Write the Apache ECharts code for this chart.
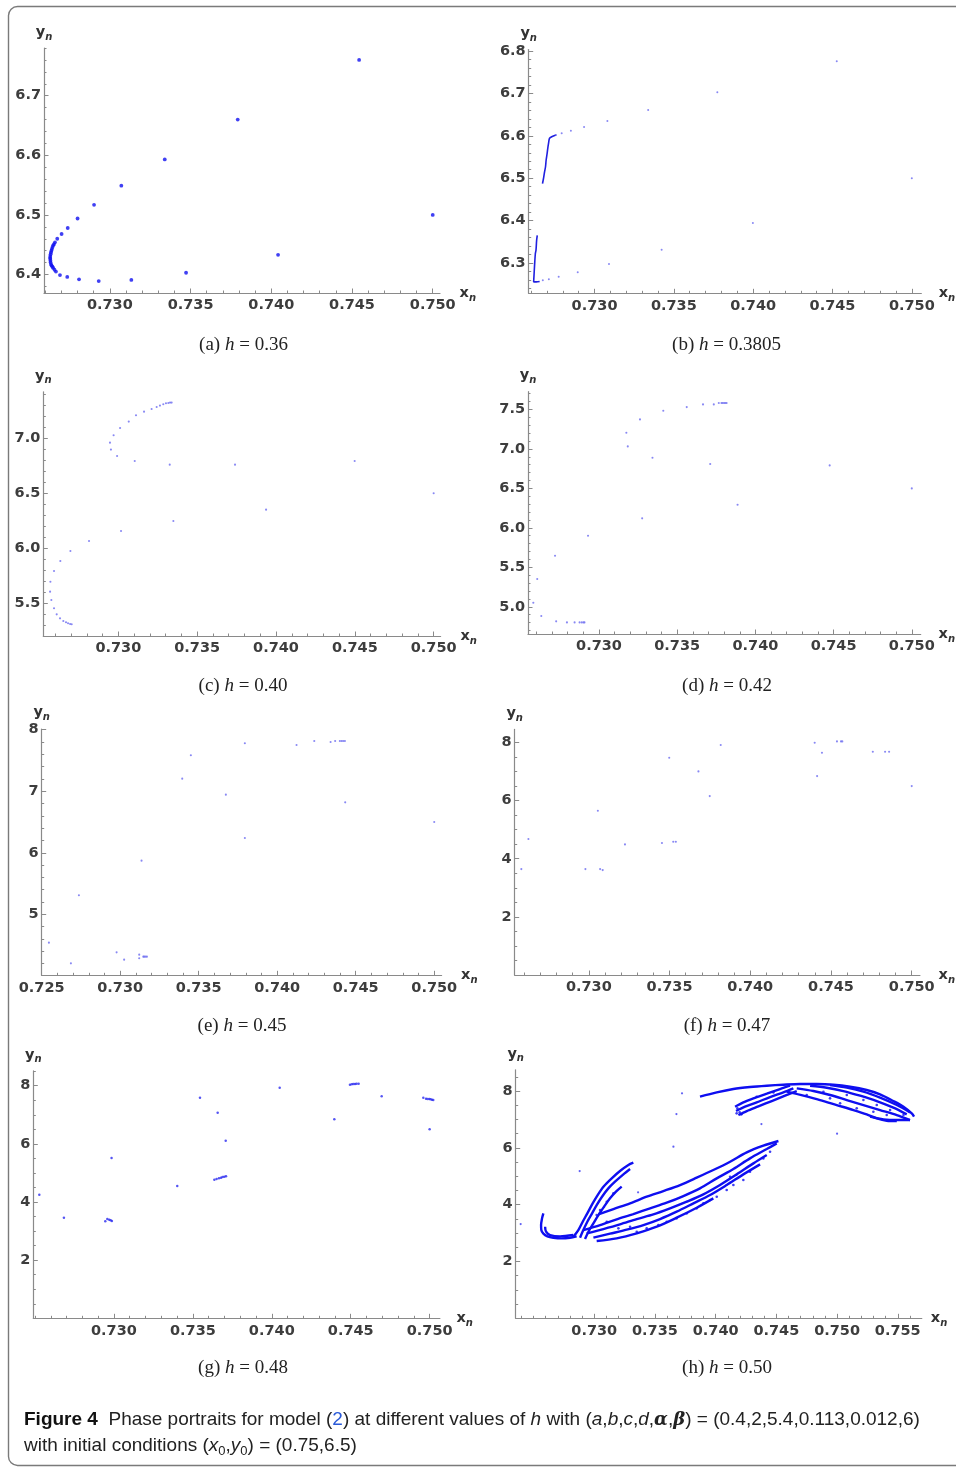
<!DOCTYPE html>
<html><head><meta charset="utf-8">
<script src="https://cdn.jsdelivr.net/npm/echarts@6/dist/echarts.min.js"></script>
<style>html,body{margin:0;padding:0;background:#fff}#c{width:956px;height:1468px}</style>
</head><body><div id="c"></div>
<script>
// ---------- DATA (x_n, y_n) ----------
const ptsA = [[0.75000,6.500],[0.74042,6.433],[0.73472,6.403],[0.73133,6.391],[0.72931,6.389],[0.72809,6.392],[0.72736,6.396],[0.72691,6.399],[0.72666,6.405],[0.72657,6.408],[0.72649,6.411],[0.72644,6.413],[0.72639,6.415],[0.72636,6.417],[0.72633,6.420],[0.72632,6.423],[0.72631,6.426],[0.72630,6.428],[0.72631,6.431],[0.72633,6.434],[0.72635,6.437],[0.72638,6.440],[0.72641,6.443],[0.72645,6.446],[0.72649,6.449],[0.72654,6.451],[0.72660,6.454],[0.72674,6.460],[0.72701,6.468],[0.72739,6.478],[0.72800,6.494],[0.72902,6.517],[0.73071,6.549],[0.73340,6.593],[0.73792,6.660],[0.74544,6.760]];
const ptsB = [[0.75000,6.500],[0.73998,6.394],[0.73423,6.331],[0.73091,6.297],[0.72894,6.278],[0.72774,6.267],[0.72712,6.261],[0.72674,6.259],[0.72757,6.602],[0.72793,6.606],[0.72851,6.612],[0.72934,6.621],[0.73081,6.635],[0.73338,6.661],[0.73774,6.703],[0.74527,6.776]];
const segB1 = [[0.72757,6.602],[0.72730,6.598],[0.72716,6.594],[0.72710,6.582],[0.72705,6.570],[0.72701,6.558],[0.72695,6.543],[0.72691,6.527],[0.72685,6.515],[0.72680,6.503],[0.72676,6.495],[0.72672,6.487]];
const segB2 = [[0.72639,6.365],[0.72635,6.353],[0.72631,6.330],[0.72627,6.322],[0.72622,6.294],[0.72618,6.267],[0.72616,6.255],[0.72633,6.255],[0.72654,6.256]];
const ptsC = [[0.75000,6.500],[0.73937,6.352],[0.73349,6.249],[0.73017,6.159],[0.72814,6.068],[0.72696,5.977],[0.72632,5.887],[0.72592,5.796],[0.72569,5.699],[0.72567,5.609],[0.72575,5.533],[0.72592,5.458],[0.72609,5.403],[0.72630,5.367],[0.72651,5.343],[0.72668,5.331],[0.72681,5.322],[0.72694,5.316],[0.72704,5.313],[0.74499,6.793],[0.73740,6.760],[0.73326,6.760],[0.73104,6.793],[0.72992,6.838],[0.72953,6.896],[0.72947,6.959],[0.72970,7.026],[0.73011,7.092],[0.73066,7.150],[0.73112,7.207],[0.73163,7.240],[0.73211,7.264],[0.73243,7.282],[0.73264,7.295],[0.73285,7.307],[0.73302,7.316],[0.73317,7.319],[0.73328,7.322],[0.73338,7.322]];
const ptsD = [[0.75000,6.500],[0.73886,6.293],[0.73276,6.120],[0.72930,5.900],[0.72719,5.647],[0.72605,5.351],[0.72580,5.051],[0.72631,4.883],[0.72726,4.815],[0.72795,4.802],[0.72844,4.802],[0.72876,4.802],[0.72890,4.802],[0.72901,4.802],[0.72907,4.802],[0.74475,6.791],[0.73711,6.808],[0.73342,6.889],[0.73184,7.032],[0.73175,7.205],[0.73262,7.374],[0.73411,7.484],[0.73561,7.530],[0.73665,7.564],[0.73734,7.564],[0.73766,7.581],[0.73783,7.581],[0.73791,7.581],[0.73800,7.581],[0.73808,7.581],[0.73816,7.581]];
const ptsE = [[0.75000,6.500],[0.74433,6.819],[0.73794,6.240],[0.73136,5.872],[0.72737,5.309],[0.72546,4.540],[0.72686,4.204],[0.72977,4.383],[0.73025,4.264],[0.73121,4.345],[0.73121,4.286],[0.73147,4.313],[0.73153,4.313],[0.73161,4.313],[0.73170,4.313],[0.73395,7.204],[0.73450,7.583],[0.73673,6.944],[0.73794,7.778],[0.74123,7.751],[0.74236,7.816],[0.74340,7.799],[0.74369,7.816],[0.74399,7.816],[0.74410,7.816],[0.74420,7.816],[0.74431,7.816]];
const ptsF = [[0.75000,6.500],[0.74414,6.844],[0.74399,7.991],[0.74444,7.647],[0.74537,8.037],[0.74562,8.037],[0.74570,8.037],[0.74759,7.681],[0.74835,7.681],[0.74860,7.681],[0.73817,7.911],[0.73498,7.475],[0.73679,7.005],[0.73749,6.156],[0.73453,4.539],[0.73523,4.585],[0.73539,4.585],[0.73224,4.493],[0.73056,5.651],[0.72979,3.644],[0.73070,3.644],[0.73086,3.610],[0.72626,4.677],[0.72582,3.644]];
const ptsG = [[0.75000,6.500],[0.74396,6.844],[0.74696,7.635],[0.74960,7.589],[0.74977,7.555],[0.74987,7.544],[0.74998,7.544],[0.75006,7.532],[0.75015,7.521],[0.75023,7.509],[0.74050,7.933],[0.74495,8.037],[0.74506,8.048],[0.74516,8.060],[0.74527,8.060],[0.74537,8.071],[0.74550,8.071],[0.73545,7.589],[0.73657,7.073],[0.73708,6.110],[0.72985,5.514],[0.73401,4.550],[0.73636,4.768],[0.73650,4.791],[0.73665,4.814],[0.73678,4.837],[0.73688,4.860],[0.73699,4.872],[0.73710,4.883],[0.72527,4.252],[0.72683,3.461],[0.72945,3.335],[0.72958,3.415],[0.72970,3.392],[0.72979,3.369],[0.72987,3.346]];
// (h) h = 0.50 : strands of the attractor + isolated points
const ptsH = [[0.75000,6.500],[0.73723,7.920],[0.73677,7.192],[0.74377,6.840],[0.73652,6.042],[0.72880,5.185],[0.72394,3.319],[0.73361,4.434]];
const hSpeckle = [[0.73103,3.401],[0.73199,3.167],[0.73295,3.225],[0.73350,3.049],[0.73432,3.167],[0.73528,3.284],[0.73597,3.401],[0.73679,3.519],[0.73762,3.695],[0.73844,3.871],[0.73899,4.047],[0.73954,4.164],[0.74009,4.282],[0.74091,4.516],[0.74146,4.693],[0.74228,4.869],[0.74283,5.162],[0.74119,4.986],[0.74393,5.631],[0.74448,5.866],[0.73020,3.636],[0.73048,3.812],[0.73103,4.106],[0.73158,4.399],[0.74338,7.803],[0.74476,7.955],[0.74750,7.862],[0.74942,7.744],[0.75080,7.862],[0.75217,7.685],[0.75327,7.509],[0.75437,7.333],[0.75547,7.157],[0.74888,7.979],[0.75025,7.568],[0.75162,7.392],[0.75299,7.275],[0.75409,7.157],[0.74179,7.392],[0.74198,7.251],[0.74212,7.181],[0.74173,7.216]];
const hHook1 = [[0.72581,3.695],[0.72570,3.519],[0.72562,3.284],[0.72564,3.108],[0.72581,2.979],[0.72614,2.885],[0.72663,2.838],[0.72732,2.815],[0.72800,2.838],[0.72855,2.885]];
const hHook2 = [[0.72595,3.225],[0.72603,3.049],[0.72636,2.932],[0.72718,2.885],[0.72828,2.932]];
const hWing1 = [[0.72828,2.873],[0.72869,3.108],[0.72905,3.401],[0.72943,3.695],[0.72987,4.047],[0.73028,4.340],[0.73081,4.657],[0.73144,4.927],[0.73212,5.185],[0.73281,5.397],[0.73322,5.479]];
const hWing2 = [[0.72883,2.838],[0.72910,3.108],[0.72943,3.401],[0.72982,3.695],[0.73020,3.988],[0.73064,4.282],[0.73116,4.575],[0.73171,4.810],[0.73240,5.068],[0.73295,5.256]];
const hWing3 = [[0.72924,2.791],[0.72952,3.049],[0.72993,3.343],[0.73034,3.636],[0.73081,3.930],[0.73130,4.223],[0.73179,4.458],[0.73226,4.634]];
const hBandA = [[0.73034,3.660],[0.73158,3.847],[0.73295,4.047],[0.73432,4.282],[0.73569,4.481],[0.73707,4.693],[0.73844,4.951],[0.73981,5.221],[0.74119,5.514],[0.74256,5.843],[0.74393,6.078],[0.74517,6.242]];
const hBandB = [[0.72910,3.108],[0.73048,3.284],[0.73185,3.484],[0.73322,3.671],[0.73460,3.871],[0.73597,4.070],[0.73734,4.305],[0.73871,4.575],[0.74009,4.927],[0.74146,5.256],[0.74283,5.631],[0.74421,5.960],[0.74503,6.160]];
const hBandC = [[0.72938,2.991],[0.73075,3.143],[0.73212,3.308],[0.73350,3.495],[0.73487,3.660],[0.73624,3.871],[0.73762,4.106],[0.73899,4.364],[0.74036,4.693],[0.74174,5.068],[0.74311,5.455],[0.74421,5.749]];
const hBandD = [[0.72993,2.838],[0.73130,2.979],[0.73267,3.120],[0.73405,3.284],[0.73542,3.495],[0.73679,3.754],[0.73817,4.047],[0.73954,4.340],[0.74091,4.693],[0.74228,5.068],[0.74366,5.420]];
const hBandE = [[0.73020,2.721],[0.73185,2.815],[0.73350,2.991],[0.73515,3.225],[0.73679,3.542],[0.73844,3.894],[0.73981,4.223]];
const hTop = [[0.73871,7.803],[0.74009,7.955],[0.74146,8.073],[0.74283,8.143],[0.74421,8.190],[0.74558,8.225],[0.74695,8.249],[0.74833,8.249],[0.74970,8.225],[0.75107,8.155],[0.75244,8.038],[0.75354,7.885],[0.75464,7.650],[0.75547,7.451],[0.75615,7.216],[0.75634,7.099]];
const hLobe1 = [[0.74160,7.451],[0.74228,7.603],[0.74311,7.744],[0.74421,7.908],[0.74530,8.073],[0.74613,8.190]];
const hLobe2 = [[0.74168,7.298],[0.74242,7.451],[0.74338,7.603],[0.74448,7.791],[0.74558,7.955],[0.74640,8.096]];
const hLobe3 = [[0.74187,7.157],[0.74256,7.298],[0.74352,7.462],[0.74462,7.650],[0.74572,7.838],[0.74668,8.002]];
const hRight1 = [[0.74585,7.979],[0.74723,7.838],[0.74860,7.685],[0.74997,7.509],[0.75135,7.333],[0.75244,7.181],[0.75327,7.040],[0.75409,6.958],[0.75492,6.946]];
const hRight2 = [[0.74668,8.096],[0.74805,8.002],[0.74942,7.862],[0.75080,7.685],[0.75217,7.509],[0.75354,7.333],[0.75492,7.157],[0.75601,6.981]];
const hRight3 = [[0.74778,8.190],[0.74915,8.120],[0.75052,8.002],[0.75190,7.838],[0.75327,7.650],[0.75464,7.416],[0.75574,7.181]];
const hRight4 = [[0.74942,8.214],[0.75080,8.120],[0.75217,7.979],[0.75354,7.768],[0.75492,7.509],[0.75601,7.251]];
const hBottom = [[0.75272,7.099],[0.75382,7.005],[0.75492,6.981],[0.75601,6.981]];

// ---------- TICK LABELS ----------
const xTicks = [0.730,0.735,0.740,0.745,0.750];
const xTicksE = [0.725,0.730,0.735,0.740,0.745,0.750];
const xTicksH = [0.730,0.735,0.740,0.745,0.750,0.755];
const yTicksA = [6.4,6.5,6.6,6.7];
const yTicksB = [6.3,6.4,6.5,6.6,6.7,6.8];
const yTicksC = [5.5,6.0,6.5,7.0];
const yTicksD = [5.0,5.5,6.0,6.5,7.0,7.5];
const yTicksE = [5,6,7,8];
const yTicksFGH = [2,4,6,8];
const captions = ['(a) {i|h} = 0.36','(b) {i|h} = 0.3805','(c) {i|h} = 0.40','(d) {i|h} = 0.42','(e) {i|h} = 0.45','(f) {i|h} = 0.47','(g) {i|h} = 0.48','(h) {i|h} = 0.50'];

// ---------- LAYOUT ----------
const panels = [
 {g:{left:44,top:48,width:396,height:245}, x:[0.72592,0.75045], y:[6.369,6.78], xMaj:xTicks, yMaj:yTicksA, yStep:0.02, yDec:1, cap:[243.5,345]},
 {g:{left:528.7,top:49.5,width:397.7,height:243.8}, x:[0.72585,0.75060], y:[6.228,6.804], xMaj:xTicks, yMaj:yTicksB, yStep:0.02, yDec:1, cap:[726.5,345]},
 {g:{left:43.3,top:391.8,width:397.3,height:244.2}, x:[0.72524,0.75044], y:[5.207,7.42], xMaj:xTicks, yMaj:yTicksC, yStep:0.1, yDec:1, cap:[243,686]},
 {g:{left:528,top:391.7,width:396.7,height:242.3}, x:[0.72546,0.75057], y:[4.655,7.725], xMaj:xTicks, yMaj:yTicksD, yStep:0.1, yDec:1, cap:[727,686]},
 {g:{left:41.7,top:729,width:399.9,height:246.3}, x:[0.725,0.75047], y:[4.01,8.01], xMaj:xTicksE, yMaj:yTicksE, yStep:0.2, yDec:0, cap:[242,1026]},
 {g:{left:514.7,top:729.4,width:406.6,height:245.6}, x:[0.72541,0.75051], y:[0,8.45], xMaj:xTicks, yMaj:yTicksFGH, yStep:0.5, yDec:0, cap:[727,1026]},
 {g:{left:33.3,top:1070.9,width:406.6,height:247.4}, x:[0.72489,0.75065], y:[0,8.51], xMaj:xTicks, yMaj:yTicksFGH, yStep:0.5, yDec:0, cap:[243,1368]},
 {g:{left:515.7,top:1069.8,width:406.1,height:248.5}, x:[0.72353,0.75698], y:[0,8.75], xMaj:xTicksH, yMaj:yTicksFGH, yStep:0.5, yDec:0, cap:[727,1368]}
];

function minorTicks(min, max, step, majors){
  const out=[]; let k=Math.ceil(min/step-1e-9);
  for(; k*step<=max+1e-12; k++){
    const v=+(k*step).toFixed(6);
    if(v<min-1e-12) continue;
    if(!majors.some(m=>Math.abs(m-v)<step*0.01)) out.push(v);
  }
  return out;
}

const AX = '#8a8a8a';
const LBL = {fontFamily:'DejaVu Sans', fontWeight:'bold', fontSize:14.5, color:'#3d3d3d'};
const nameRich = {
  b:{fontFamily:'DejaVu Sans', fontWeight:'bold', fontSize:14.5, color:'#333', lineHeight:20, verticalAlign:'middle'},
  s:{fontFamily:'DejaVu Sans', fontWeight:'bold', fontStyle:'italic', fontSize:10, color:'#333', lineHeight:20, verticalAlign:'bottom'}
};

const grids=[], xAxes=[], yAxes=[], series=[], graphics=[];
panels.forEach((p,i)=>{
  grids.push(Object.assign({containLabel:false}, p.g));
  const xMin = minorTicks(p.x[0],p.x[1],0.001,p.xMaj);
  const yMin = minorTicks(p.y[0],p.y[1],p.yStep,p.yMaj);
  xAxes.push({type:'value', gridIndex:i, position:'bottom', min:p.x[0], max:p.x[1],
    axisLine:{show:true,onZero:false,lineStyle:{color:AX,width:1.2}},
    axisTick:{show:true,inside:true,length:4.5,customValues:p.xMaj,lineStyle:{color:AX,width:1}},
    axisLabel:Object.assign({customValues:p.xMaj, margin:5, formatter:v=>v.toFixed(3), showMinLabel:true, showMaxLabel:true}, LBL),
    splitLine:{show:false},
    name:'{b|x}{s|n}', nameLocation:'end', nameGap:9, nameTextStyle:{rich:nameRich}});
  xAxes.push({type:'value', gridIndex:i, position:'bottom', min:p.x[0], max:p.x[1],
    axisLine:{show:false,onZero:false}, axisLabel:{show:false}, splitLine:{show:false},
    axisTick:{show:true,inside:true,length:2.5,customValues:xMin,lineStyle:{color:AX,width:1}}});
  yAxes.push({type:'value', gridIndex:i, position:'left', min:p.y[0], max:p.y[1],
    axisLine:{show:true,onZero:false,lineStyle:{color:AX,width:1.2}},
    axisTick:{show:true,inside:true,length:4.5,customValues:p.yMaj,lineStyle:{color:AX,width:1}},
    axisLabel:Object.assign({customValues:p.yMaj, margin:3, formatter:v=>v.toFixed(p.yDec)}, LBL),
    splitLine:{show:false},
    name:'{b|y}{s|n}', nameLocation:'end', nameGap:6, nameTextStyle:{rich:nameRich}});
  yAxes.push({type:'value', gridIndex:i, position:'left', min:p.y[0], max:p.y[1],
    axisLine:{show:false,onZero:false}, axisLabel:{show:false}, splitLine:{show:false},
    axisTick:{show:true,inside:true,length:2.5,customValues:yMin,lineStyle:{color:AX,width:1}}});
  graphics.push({type:'text', x:p.cap[0], y:p.cap[1], style:{text:captions[i], fontFamily:'Liberation Serif', fontSize:19, fill:'#222', align:'center', verticalAlign:'middle',
    rich:{i:{fontFamily:'Liberation Serif', fontStyle:'italic', fontSize:19, fill:'#222'}}}});
});

function sc(i, data, size, color){
  return {type:'scatter', xAxisIndex:2*i, yAxisIndex:2*i, data:data, symbol:'circle', symbolSize:size, itemStyle:{color:color, borderWidth:0}, silent:true, animation:false, z:3};
}
function ln(i, data, width, color){
  return {type:'line', xAxisIndex:2*i, yAxisIndex:2*i, data:data, showSymbol:false, symbol:'none', smooth:0.3, lineStyle:{color:color, width:width}, silent:true, animation:false, z:2};
}
series.push(sc(0, ptsA, 3.8, '#1010f0'));
series.push(sc(1, ptsB, 2, '#6a6af0'));
series.push(ln(1, segB1, 1.6, '#2020e0'));
series.push(ln(1, segB2, 1.6, '#2020e0'));
series.push(sc(2, ptsC, 2.1, '#6a6af0'));
series.push(sc(3, ptsD, 2.1, '#6a6af0'));
series.push(sc(4, ptsE, 2.1, '#6a6af0'));
series.push(sc(5, ptsF, 2.1, '#6a6af0'));
series.push(sc(6, ptsG, 2.5, '#2a2af0'));
const HC = '#0e0ef0';
[hHook1,hHook2,hWing1,hWing2,hWing3,hBandA,hBandB,hBandC,hBandD,hBandE,hTop,hLobe1,hLobe2,hLobe3,hRight1,hRight2,hRight3,hRight4,hBottom].forEach(s=>series.push(ln(7, s, 2.4, HC)));
series.push(sc(7, hSpeckle, 2.6, HC));
series.push(sc(7, ptsH, 2.2, '#3a3af0'));

// frame + figure caption
graphics.push({type:'rect', shape:{x:8.5,y:6.5,width:975,height:1459,r:9}, style:{fill:'none', stroke:'#7a7a7a', lineWidth:1.4}, z:-1});
const capFont = 'Liberation Sans';
graphics.push({type:'text', x:24, y:1420, style:{
  text:'{b|Figure 4}  Phase portraits for model ({l|2}) at different values of {i|h} with ({i|a},{i|b},{i|c},{i|d},{bi|α},{bi|β}) = (0.4,2,5.4,0.113,0.012,6)',
  fontFamily:capFont, fontSize:19, fill:'#222', align:'left', verticalAlign:'middle',
  rich:{b:{fontFamily:capFont, fontWeight:'bold', fontSize:19, fill:'#111'}, l:{fontFamily:capFont, fontSize:19, fill:'#2a5ad8'}, i:{fontFamily:capFont, fontStyle:'italic', fontSize:19, fill:'#222'}, bi:{fontFamily:'DejaVu Serif', fontStyle:'italic', fontWeight:'bold', fontSize:18, fill:'#222'}}}});
graphics.push({type:'text', x:24, y:1446, style:{
  text:'with initial conditions ({i|x}{s|0},{i|y}{s|0}) = (0.75,6.5)',
  fontFamily:capFont, fontSize:19, fill:'#222', align:'left', verticalAlign:'middle',
  rich:{i:{fontFamily:capFont, fontStyle:'italic', fontSize:19, fill:'#222', lineHeight:24, verticalAlign:'middle'}, s:{fontFamily:capFont, fontSize:13, fill:'#222', lineHeight:24, verticalAlign:'bottom'}}}});

const chart = echarts.init(document.getElementById('c'), null, {renderer:'canvas'});
chart.setOption({animation:false, backgroundColor:'#fff', grid:grids, xAxis:xAxes, yAxis:yAxes, series:series, graphic:graphics});
</script></body></html>
